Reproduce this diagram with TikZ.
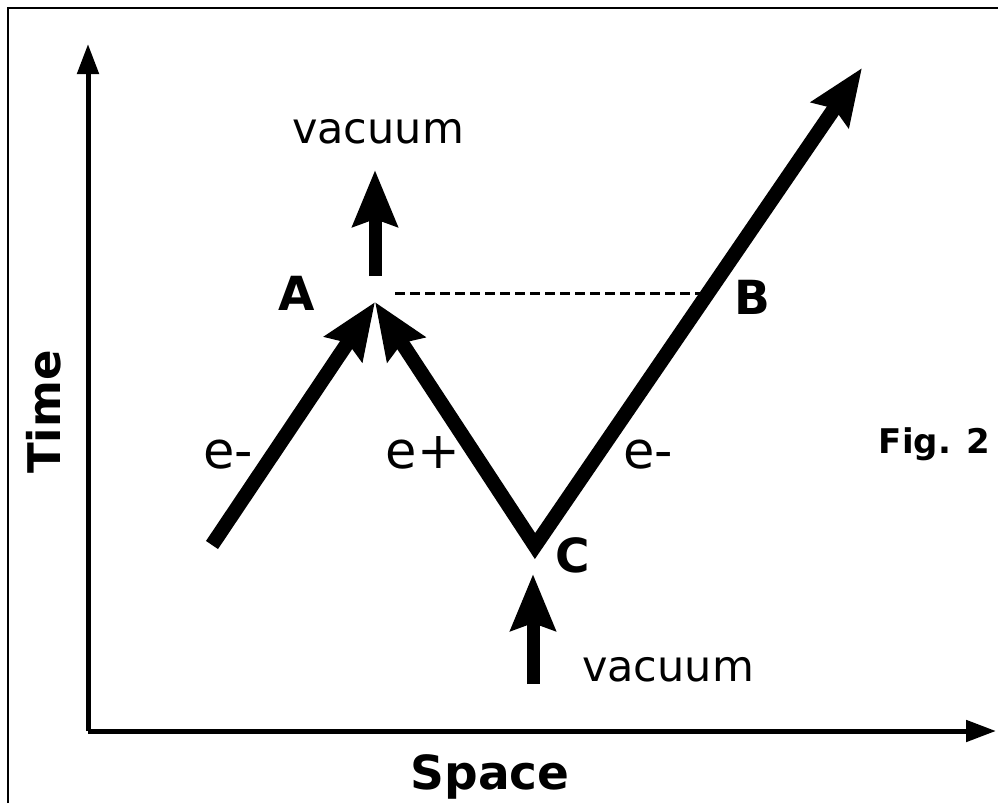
\documentclass[tikz,border=0pt]{standalone}
\usepackage{fontspec}
\setmainfont{DejaVu Sans}
\usetikzlibrary{arrows.meta}
\tikzset{
  world/.style={line width=14.5pt,line join=miter},
  tip/.style={-{Stealth[length=56pt,width=44pt,inset=7pt]}},
  axis/.style={line width=5pt,-{Triangle[length=30pt,width=21pt]}},
  txt/.style={font=\fontsize{43}{50}\selectfont,anchor=base},
  part/.style={font=\fontsize{51}{58}\selectfont,anchor=base},
  pt/.style={font=\fontsize{47}{52}\selectfont\bfseries,anchor=base},
}
\begin{document}
\begin{tikzpicture}[x=1pt,y=-1pt]
\useasboundingbox (0,0) rectangle (998,803);
% frame
\draw[line width=2pt] (8,803) -- (8,8) -- (998,8);
% axes
\coordinate (O) at (88,731);
\coordinate (T) at (88,44);
\coordinate (S) at (996,731);
\draw[axis] (O) -- (T);
\draw[axis] (O.center) -- (S);
\node[pt,font=\fontsize{45}{50}\selectfont\bfseries,rotate=90] (time) at (60,412) {Time};
\node[pt] (space) at (490,789) {Space};
% world lines
\coordinate (start) at (212,545);
\coordinate (A) at (375,302);
\coordinate (C) at (535,546);
\coordinate (end) at (862,68);
\draw[world,tip] (start) -- (A);
\draw[world,{Stealth[length=56pt,width=44pt,inset=7pt]}-{Stealth[length=56pt,width=44pt,inset=7pt]}] (A) -- (C) -- (end);
% simultaneity
\coordinate (dA) at (395,293);
\coordinate (dB) at (706,293);
\draw[line width=3pt,dash pattern=on 10pt off 5pt] (dA) -- (dB);
% vacuum arrows
\coordinate (v1) at (375,276);
\coordinate (v1t) at (375,170);
\coordinate (v2) at (533,684);
\coordinate (v2t) at (533,574);
\draw[line width=13pt,tip] (v1) -- (v1t);
\draw[line width=13pt,tip] (v2) -- (v2t);
\node[txt] (vacA) at (378,143) {vacuum};
\node[txt] (vacC) at (668,681) {vacuum};
% labels
\node[pt] (labA) at (297,310) {A};
\node[pt] (labB) at (752,314) {B};
\node[pt] (labC) at (573,572) {C};
\node[part] (e1) at (228,468) {e-};
\node[part] (e2) at (423,468) {e+};
\node[part] (e3) at (648,468) {e-};
\node[pt,font=\fontsize{34}{40}\selectfont\bfseries,anchor=base east] (fig) at (994,453) {Fig. 2};
\end{tikzpicture}
\end{document}
